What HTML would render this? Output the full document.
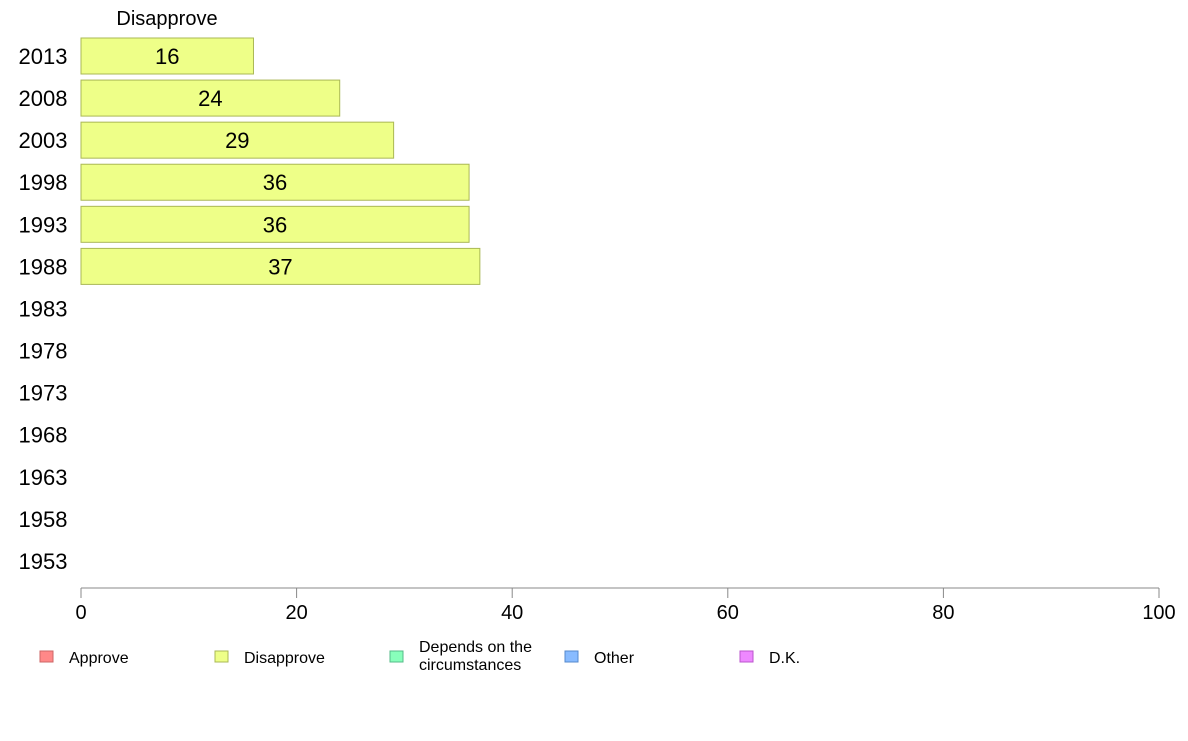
<!DOCTYPE html>
<html><head><meta charset="utf-8"><style>
body{margin:0;background:#fff;font-family:"Liberation Sans",sans-serif}
</style></head><body>
<svg id="c" width="1188" height="736" xmlns="http://www.w3.org/2000/svg" font-family="Liberation Sans, sans-serif"></svg>
<script>
const years=["2013","2008","2003","1998","1993","1988","1983","1978","1973","1968","1963","1958","1953"];
const disapprove=[16,24,29,36,36,37,null,null,null,null,null,null,null];
const ticks=[0,20,40,60,80,100];
const legendLabels=[["Approve"],["Disapprove"],["Depends on the","circumstances"],["Other"],["D.K."]];
const legendColors=["#f88","#eeff88","#88ffbb","#88bbff","#ee88ff"];
const legendStroke=["#c66","#aab855","#55bb88","#5588cc","#bb55cc"];
const svg=document.getElementById('c');const NS="http://www.w3.org/2000/svg";
function mk(t,a,p){const e=document.createElementNS(NS,t);for(const k in a)e.setAttribute(k,a[k]);(p||svg).appendChild(e);return e;}
const x0=81,x1=1159;const x=v=>x0+(x1-x0)*v/100;
const y=i=>56+i*42.08;
const t=mk('text',{x:167,y:25,'font-size':20,'text-anchor':'middle'});t.textContent="Disapprove";


years.forEach((yr,i)=>{
 const l=mk('text',{x:43,y:y(i)+8,'font-size':22,'text-anchor':'middle'});l.textContent=yr;
 
 
 const v=disapprove[i];if(v==null)return;
 const r=mk('rect',{x:x(0),y:y(i)-18,width:x(v)-x(0),height:36,fill:'#eeff88',stroke:'#aab855','stroke-width':1});
 
 
 const vt=mk('text',{x:(x(0)+x(v))/2,y:y(i)+8,'font-size':22,'text-anchor':'middle'});vt.textContent=v;
 
 
});
const ax=mk('line',{x1:x0,x2:x1,y1:588,y2:588,stroke:'#888'});


ticks.forEach(v=>{
 const tk=mk('line',{x1:x(v),x2:x(v),y1:588,y2:598,stroke:'#888'});
 
 
 const tl=mk('text',{x:x(v),y:619,'font-size':20,'text-anchor':'middle'});tl.textContent=v;
 
 
});
legendLabels.forEach((lab,i)=>{
 const lx=40+i*175;
 const g=mk('g',{});
 
 
 mk('rect',{x:lx,y:651,width:13,height:11,fill:legendColors[i],stroke:legendStroke[i]},g);
 lab.forEach((s,j)=>{const tt=mk('text',{x:lx+29,y:(lab.length>1?652:663)+j*18,'font-size':16},g);tt.textContent=s;});
});
</script>
</body></html>
